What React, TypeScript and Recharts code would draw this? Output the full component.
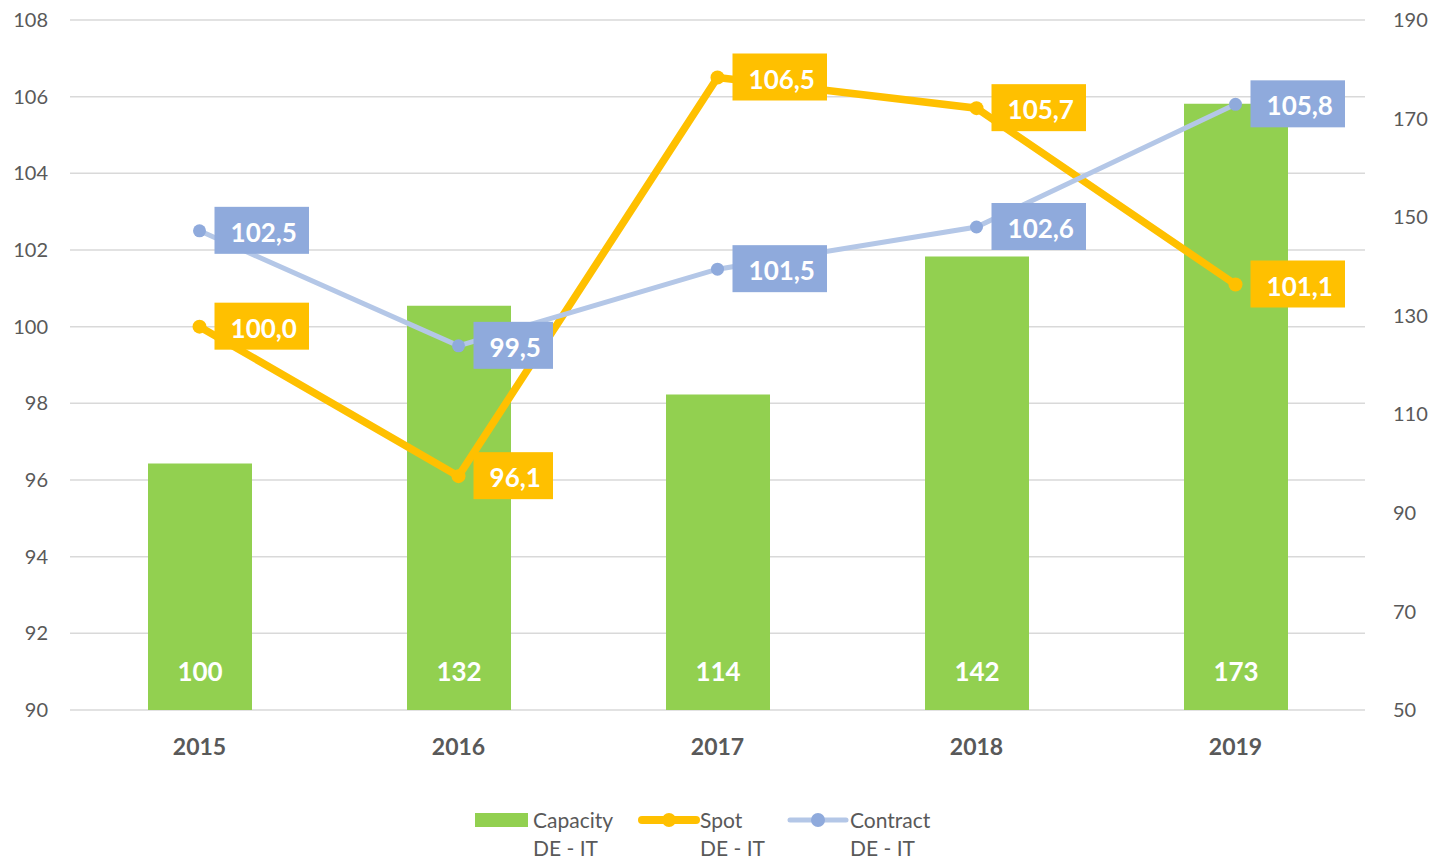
import React from "react";
import { Bar, ComposedChart, CartesianGrid, LabelList, Line, XAxis, YAxis } from "recharts";

const years = ["2015", "2016", "2017", "2018", "2019"];
const capacity = [100, 132, 114, 142, 173];
const spot = [100.0, 96.1, 106.5, 105.7, 101.1];
const contract = [102.5, 99.5, 101.5, 102.6, 105.8];
const leftTicks = [90, 92, 94, 96, 98, 100, 102, 104, 106, 108];
const rightTicks = [50, 70, 90, 110, 130, 150, 170, 190];

const data = years.map((year, i) => ({
  year,
  capacity: capacity[i],
  spot: spot[i],
  contract: contract[i],
}));

const FONT = "Lato, 'Open Sans', sans-serif";
const GREY = "#595959";
const GREEN = "#92D050";
const GOLD = "#FFC000";
const BLUE_LINE = "#B4C7E7";
const BLUE = "#8FAADC";

const fmt = (v: number) => v.toFixed(1).replace(".", ",");

// rough width of bold digits at 26px
const textWidth = (s: string) =>
  s.split("").reduce((w, c) => w + (c === "," ? 6.5 : 15), 0);

function boxLabel(color: string) {
  return (props: any) => {
    const { x, y, value } = props;
    const s = fmt(Number(value));
    const w = textWidth(s) + 28;
    const bx = x + 15;
    return (
      <g>
        <rect x={bx} y={y - 24} width={w} height={47} fill={color} />
        <text
          x={bx + w / 2 + 2}
          y={y + 1}
          fill="#fff"
          fontFamily={FONT}
          fontWeight="bold"
          fontSize={26}
          textAnchor="middle"
          dominantBaseline="central"
        >
          {s}
        </text>
      </g>
    );
  };
}

const barLabel = (props: any) => {
  const { x, y, width, height, value } = props;
  return (
    <text
      x={x + width / 2}
      y={y + height - 39}
      fill="#fff"
      fontFamily={FONT}
      fontWeight="bold"
      fontSize={26}
      textAnchor="middle"
      dominantBaseline="central"
    >
      {value}
    </text>
  );
};

const legendText: React.CSSProperties = {
  position: "absolute",
  top: 806,
  fontFamily: FONT,
  fontSize: 21,
  lineHeight: "28px",
  color: GREY,
  whiteSpace: "pre",
};

export default function App() {
  return (
    <div style={{ position: "absolute", left: 0, top: 0, width: 1435, height: 860, background: "#fff" }}>
      <ComposedChart width={1435} height={860} data={data} margin={{ top: 20, right: 0, left: 0, bottom: 0 }}>
        <CartesianGrid vertical={false} stroke="#D9D9D9" strokeWidth={1.5} yAxisId="left" />
        <XAxis
          dataKey="year"
          height={150}
          axisLine={false}
          tickLine={false}
          tickSize={0}
          tickMargin={29}
          tick={{ fill: GREY, fontFamily: FONT, fontWeight: "bold", fontSize: 23 }}
        />
        <YAxis
          yAxisId="left"
          width={70}
          domain={[90, 108]}
          ticks={leftTicks}
          axisLine={false}
          tickLine={false}
          tickSize={0}
          tickMargin={22}
          tick={{ fill: GREY, fontFamily: FONT, fontSize: 20 }}
        />
        <YAxis
          yAxisId="right"
          orientation="right"
          width={70}
          domain={[50, 190]}
          ticks={rightTicks}
          axisLine={false}
          tickLine={false}
          tickSize={0}
          tickMargin={28}
          tick={{ fill: GREY, fontFamily: FONT, fontSize: 20, textAnchor: "start" }}
        />
        <Bar yAxisId="right" dataKey="capacity" fill={GREEN} barSize={104} isAnimationActive={false}>
          <LabelList dataKey="capacity" content={barLabel} />
        </Bar>
        <Line
          yAxisId="left"
          dataKey="spot"
          stroke={GOLD}
          strokeWidth={7.5}
          dot={{ r: 7, fill: GOLD, stroke: "none" }}
          activeDot={false}
          isAnimationActive={false}
        >
          <LabelList dataKey="spot" content={boxLabel(GOLD)} />
        </Line>
        <Line
          yAxisId="left"
          dataKey="contract"
          stroke={BLUE_LINE}
          strokeWidth={5}
          dot={{ r: 6.5, fill: BLUE, stroke: "none" }}
          activeDot={false}
          isAnimationActive={false}
        >
          <LabelList dataKey="contract" content={boxLabel(BLUE)} />
        </Line>
      </ComposedChart>

      <div style={{ position: "absolute", left: 475, top: 813, width: 53, height: 14, background: GREEN }} />
      <div style={{ ...legendText, left: 533 }}>{"Capacity\nDE - IT"}</div>

      <svg style={{ position: "absolute", left: 638, top: 810 }} width={62} height={20}>
        <line x1={4} y1={10} x2={58} y2={10} stroke={GOLD} strokeWidth={8} strokeLinecap="round" />
        <circle cx={31} cy={10} r={7} fill={GOLD} />
      </svg>
      <div style={{ ...legendText, left: 700 }}>{"Spot\nDE - IT"}</div>

      <svg style={{ position: "absolute", left: 787, top: 810 }} width={62} height={20}>
        <line x1={3} y1={10} x2={59} y2={10} stroke={BLUE_LINE} strokeWidth={5} strokeLinecap="round" />
        <circle cx={31} cy={10} r={7} fill={BLUE} />
      </svg>
      <div style={{ ...legendText, left: 850 }}>{"Contract\nDE - IT"}</div>
    </div>
  );
}
